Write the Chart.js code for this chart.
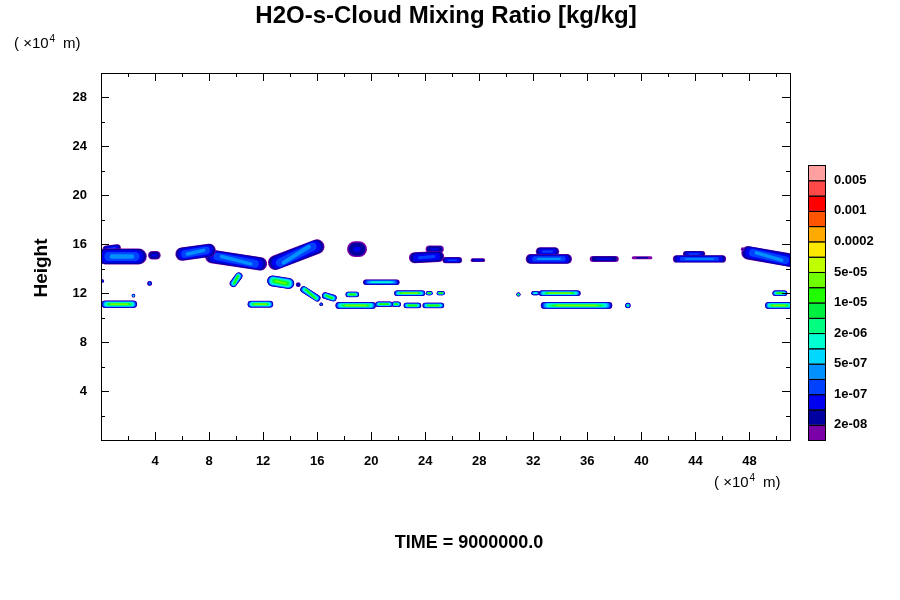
<!DOCTYPE html>
<html lang="en">
<head>
<meta charset="UTF-8">
<title>H2O-s-Cloud Mixing Ratio</title>
<script src="https://cdn.jsdelivr.net/npm/chart.js"></script>
<style>
    * { margin: 0; padding: 0; }
    body { background: #fff; width: 900px; height: 600px; overflow: hidden; }
    #wrap { position: relative; width: 900px; height: 600px; }
</style>
</head>
<body>
<div id="wrap"><canvas id="chart"></canvas></div>
<script>
// colour levels, bottom to top
const levelColors = ['#7a00a8', '#0000a0', '#0000f0', '#0040ff', '#0090ff', '#00d8ff', '#00ffd0',
    '#00ff80', '#00f040', '#20ff00', '#70ff00', '#c0ff00', '#ffe800', '#ffaa00', '#ff5500',
    '#ff0000', '#ff4848', '#ffa0a0'];
const levelLabels = ['2e-08', '1e-07', '5e-07', '2e-06', '1e-05', '5e-05', '0.0002', '0.001', '0.005'];

// cloud segments: [x start, y start, x end, y end, vertical depth (x10^4 m), top level]
const upperClouds = [
    [0.3, 15.0, 2.8, 15.0, 1.3, 4],
    [0.4, 15.6, 1.2, 15.7, 0.6, 3],
    [3.8, 15.1, 4.1, 15.1, 0.7, 2],
    [6.0, 15.2, 8.0, 15.5, 1.1, 4],
    [8.2, 15.0, 11.8, 14.4, 1.1, 4],
    [12.9, 14.5, 16.0, 15.8, 1.2, 4],
    [18.8, 15.6, 19.1, 15.6, 1.3, 2],
    [23.2, 14.9, 25.0, 15.0, 0.9, 3],
    [24.3, 15.6, 25.1, 15.6, 0.6, 2],
    [25.5, 14.7, 26.5, 14.7, 0.5, 3],
    [27.5, 14.7, 28.3, 14.7, 0.3, 2],
    [31.8, 14.8, 34.5, 14.8, 0.8, 4],
    [32.5, 15.4, 33.6, 15.4, 0.7, 3],
    [36.4, 14.8, 38.1, 14.8, 0.5, 2],
    [39.4, 14.9, 40.7, 14.9, 0.25, 1],
    [42.6, 14.8, 46.0, 14.8, 0.6, 4],
    [43.3, 15.2, 44.5, 15.2, 0.5, 3],
    [47.5, 15.6, 47.5, 15.6, 0.3, 1],
    [47.9, 15.3, 51.0, 14.7, 1.1, 4]
];
const lowerClouds = [
    [0.1, 13.0, 0.1, 13.0, 0.3, 3],
    [2.4, 11.8, 2.4, 11.8, 0.3, 6],
    [3.6, 12.8, 3.6, 12.8, 0.4, 4],
    [0.3, 11.1, 2.4, 11.1, 0.6, 10],
    [9.8, 12.8, 10.2, 13.4, 0.6, 9],
    [11.1, 11.1, 12.5, 11.1, 0.55, 10],
    [12.7, 13.0, 13.9, 12.8, 0.9, 10],
    [14.6, 12.7, 14.6, 12.7, 0.4, 2],
    [15.0, 12.3, 16.0, 11.6, 0.55, 9],
    [16.6, 11.8, 17.2, 11.6, 0.55, 9],
    [17.6, 11.0, 20.1, 11.0, 0.55, 10],
    [18.3, 11.9, 18.9, 11.9, 0.45, 9],
    [16.3, 11.1, 16.3, 11.1, 0.3, 4],
    [20.5, 11.1, 21.4, 11.1, 0.45, 9],
    [21.7, 11.1, 22.0, 11.1, 0.45, 9],
    [22.6, 11.0, 23.5, 11.0, 0.45, 9],
    [24.0, 11.0, 25.2, 11.0, 0.45, 9],
    [19.6, 12.9, 21.9, 12.9, 0.45, 6],
    [21.9, 12.0, 23.8, 12.0, 0.45, 10],
    [24.2, 12.0, 24.4, 12.0, 0.35, 9],
    [25.0, 12.0, 25.3, 12.0, 0.35, 9],
    [30.9, 11.9, 30.9, 11.9, 0.35, 9],
    [32.0, 12.0, 32.3, 12.0, 0.35, 6],
    [32.6, 12.0, 35.3, 12.0, 0.45, 10],
    [32.8, 11.0, 37.6, 11.0, 0.55, 10],
    [39.0, 11.0, 39.0, 11.0, 0.45, 8],
    [49.9, 12.0, 50.6, 12.0, 0.45, 9],
    [49.4, 11.0, 51.0, 11.0, 0.55, 10]
];
const xTicks = [4, 8, 12, 16, 20, 24, 28, 32, 36, 40, 44, 48];
const yTicks = [4, 8, 12, 16, 20, 24, 28];

const FONT = 'Liberation Sans, Arial, sans-serif';

// one line dataset per colour layer of each segment
// (Chart.js paints dataset 0 last, so the innermost layer goes first)
function buildDatasets(clouds) {
    const sets = [];
    clouds.forEach(c => {
        const [x0, y0, x1, y1, depth, top] = c;
        for (let lv = top; lv >= 0; lv--) {
            const frac = lv / top;
            const dx = (x1 - x0) * 0.5 * frac * frac * 0.4;
            sets.push({
                data: [{ x: x0 + dx, y: y0 }, { x: x1 - dx + 0.0001, y: y1 }],
                borderColor: levelColors[lv],
                borderCapStyle: 'round',
                pointRadius: 0,
                showLine: true,
                borderWidth: ctx => {
                    const s = ctx.chart.scales.y;
                    if (!s) return 4;
                    const base = s.getPixelForValue(0) - s.getPixelForValue(depth);
                    const w = base * (1 - 0.65 * frac * frac) - 0.3 * lv;
                    return Math.max(1.5, w);
                }
            });
        }
    });
    return sets;
}

function unitLabel(ctx, x, y) {
    ctx.font = '15px ' + FONT;
    ctx.textAlign = 'left';
    ctx.fillText('( \u00d710', x, y);
    const w = ctx.measureText('( \u00d710').width;
    ctx.font = '10px ' + FONT;
    ctx.fillText('4', x + w + 1, y - 5);
    ctx.font = '15px ' + FONT;
    ctx.fillText('  m)', x + w + 6, y);
}

const decor = {
    id: 'decor',
    afterDatasetsDraw(chart) {
        const { ctx, chartArea: a, scales: { x, y } } = chart;
        ctx.save();
        ctx.strokeStyle = '#000';
        ctx.lineWidth = 1;
        ctx.strokeRect(a.left + 0.5, a.top + 0.5, a.right - a.left, a.bottom - a.top);
        ctx.beginPath();
        for (let v = 2; v < 51; v += 2) {
            const len = v % 4 === 0 ? 8 : 4;
            const px = Math.round(x.getPixelForValue(v)) + 0.5;
            ctx.moveTo(px, a.bottom); ctx.lineTo(px, a.bottom - len);
            ctx.moveTo(px, a.top); ctx.lineTo(px, a.top + len);
        }
        for (let v = 2; v < 30; v += 2) {
            const len = v % 4 === 0 ? 8 : 4;
            const py = Math.round(y.getPixelForValue(v)) + 0.5;
            ctx.moveTo(a.left, py); ctx.lineTo(a.left + len, py);
            ctx.moveTo(a.right, py); ctx.lineTo(a.right - len, py);
        }
        ctx.stroke();

        // texts
        ctx.fillStyle = '#000';
        ctx.textAlign = 'center';
        ctx.textBaseline = 'middle';
        ctx.font = 'bold 24px ' + FONT;
        ctx.fillText('H2O-s-Cloud Mixing Ratio [kg/kg]', 446, 16);
        ctx.font = 'bold 18px ' + FONT;
        ctx.fillText('TIME = 9000000.0', 469, 543);
        ctx.save();
        ctx.translate(42, 268);
        ctx.rotate(-Math.PI / 2);
        ctx.font = 'bold 19px ' + FONT;
        ctx.fillText('Height', 0, 0);
        ctx.restore();
        unitLabel(ctx, 14, 44);
        unitLabel(ctx, 714, 483);

        // colour bar
        const bx = 808, bw = 17, bBottom = 440, bh = 275 / levelColors.length;
        levelColors.forEach((c, i) => {
            const top = bBottom - (i + 1) * bh;
            ctx.fillStyle = c;
            ctx.fillRect(bx, top, bw, bh);
            ctx.strokeStyle = '#000';
            ctx.strokeRect(bx + 0.5, top + 0.5, bw, bh);
        });
        ctx.fillStyle = '#000';
        ctx.textAlign = 'left';
        ctx.font = 'bold 13px ' + FONT;
        levelLabels.forEach((l, i) => {
            ctx.fillText(l, 834, bBottom - (2 * i + 1) * bh);
        });
        ctx.restore();
    }
};

new Chart(document.getElementById('chart'), {
    type: 'scatter',
    data: { datasets: [...buildDatasets(upperClouds), ...buildDatasets(lowerClouds)] },
    options: {
        responsive: true,
        maintainAspectRatio: false,
        animation: false,
        clip: true,
        layout: { padding: { left: 0, top: 73, right: 110, bottom: 60 } },
        plugins: { legend: { display: false }, tooltip: { enabled: false } },
        scales: {
            x: {
                type: 'linear', min: 0, max: 51,
                afterBuildTicks: s => { s.ticks = xTicks.map(v => ({ value: v })); },
                afterFit: s => { s.height = 100; },
                grid: { display: false },
                border: { display: false },
                ticks: { color: '#000', font: { family: FONT, size: 13, weight: 'bold' }, padding: 6, maxRotation: 0 }
            },
            y: {
                type: 'linear', min: 0, max: 30,
                afterBuildTicks: s => { s.ticks = yTicks.map(v => ({ value: v })); },
                afterFit: s => { s.width = 101; },
                grid: { display: false },
                border: { display: false },
                ticks: { color: '#000', font: { family: FONT, size: 13, weight: 'bold' }, padding: 6 }
            }
        }
    },
    plugins: [decor]
});
</script>
</body>
</html>
